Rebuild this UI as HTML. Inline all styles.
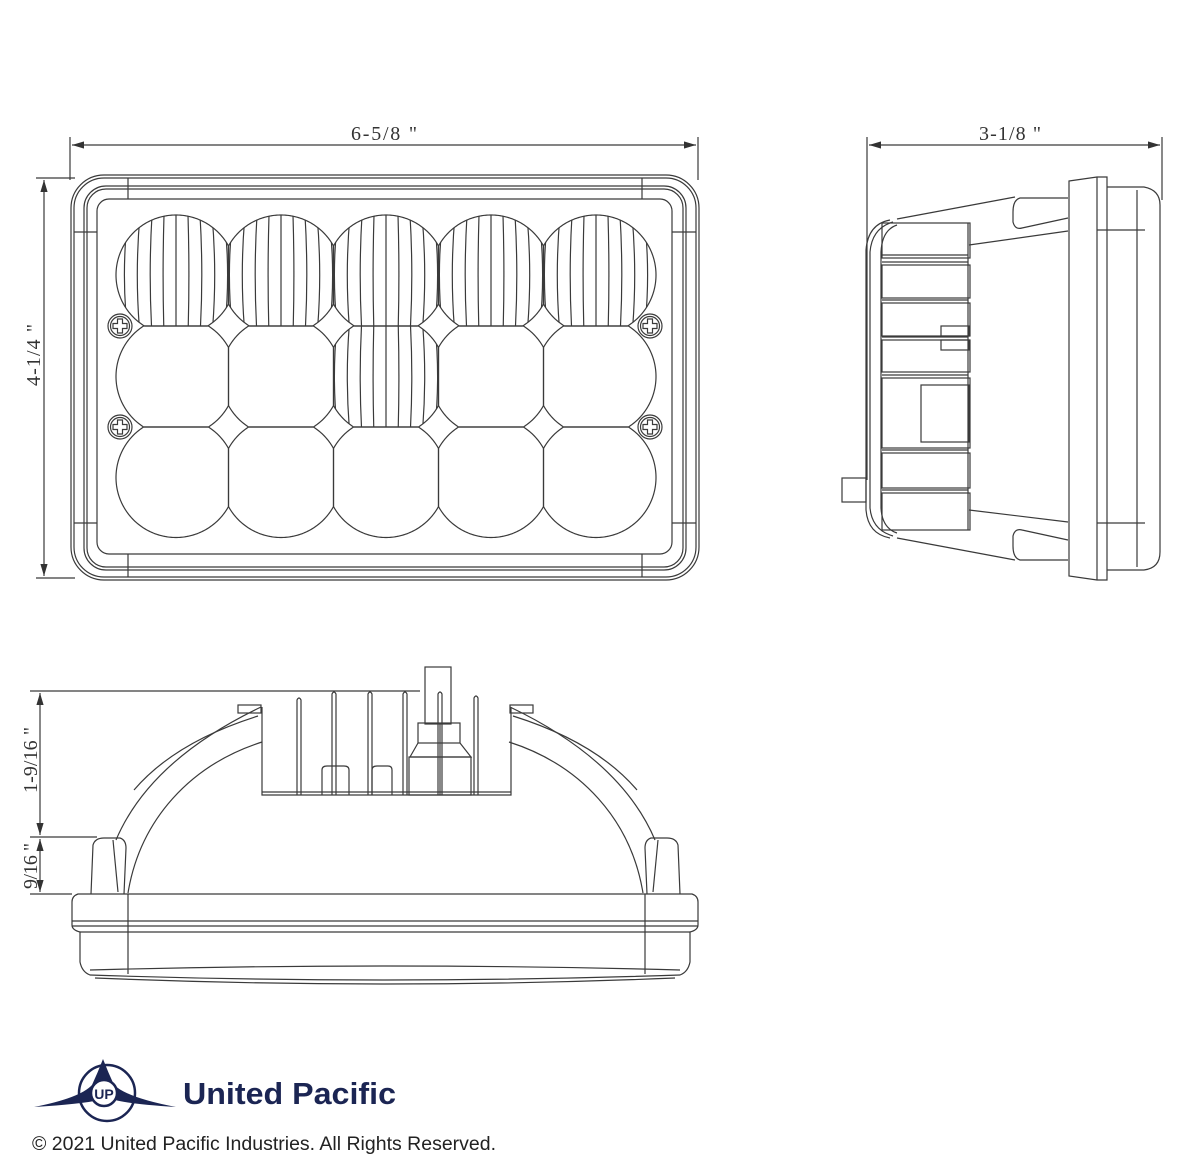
<!DOCTYPE html>
<html><head><meta charset="utf-8"><style>
html,body{margin:0;padding:0;background:#fff;width:1179px;height:1159px;overflow:hidden}
svg{display:block}
.l{fill:none;stroke:#3a3a3a;stroke-width:1.2}
.t{font-family:"Liberation Serif",serif;font-size:20px;fill:#333}
</style></head><body>
<svg width="1179" height="1159" viewBox="0 0 1179 1159" xmlns="http://www.w3.org/2000/svg">
<defs>
<marker id="ar" viewBox="0 0 10 6" refX="10" refY="3" markerWidth="10" markerHeight="6" orient="auto-start-reverse"><path d="M0,0 L10,3 L0,6 z" fill="#333"/></marker>
</defs>
<g class="l">
<!-- FRONT VIEW dims -->
<line x1="70" y1="137" x2="70" y2="180"/><line x1="698" y1="137" x2="698" y2="180"/>
<line x1="72" y1="145" x2="696" y2="145" marker-start="url(#ar)" marker-end="url(#ar)"/>
<line x1="36" y1="178" x2="75" y2="178"/><line x1="36" y1="578" x2="75" y2="578"/>
<line x1="44" y1="180" x2="44" y2="576" marker-start="url(#ar)" marker-end="url(#ar)"/>
<!-- frame -->
<rect x="71" y="175" width="628" height="405" rx="33"/>
<rect x="74" y="178" width="622" height="399" rx="30"/>
<rect x="84" y="186" width="602" height="384" rx="22"/>
<rect x="87" y="189" width="596" height="378" rx="19"/>
<rect x="97" y="199" width="575" height="355" rx="12"/>
<line x1="128" y1="178" x2="128" y2="199"/><line x1="642" y1="178" x2="642" y2="199"/>
<line x1="128" y1="554" x2="128" y2="577"/><line x1="642" y1="554" x2="642" y2="577"/>
<line x1="74" y1="232" x2="97" y2="232"/><line x1="672" y1="232" x2="696" y2="232"/>
<line x1="74" y1="523" x2="97" y2="523"/><line x1="672" y1="523" x2="696" y2="523"/>
</g>
<text class="t" x="384" y="140" text-anchor="middle" textLength="66">6-5/8 "</text>
<text class="t" transform="translate(40,355) rotate(-90)" text-anchor="middle" textLength="62">4-1/4 "</text>

<!-- LED grid -->
<g id="grid" class="l"></g>
<!-- screws -->
<g class="l" stroke-width="1">
<g transform="translate(120,326)"><circle r="12"/><circle r="9.5"/><path d="M-2.5,-7h5v4.5h4.5v5h-4.5v4.5h-5v-4.5h-4.5v-5h4.5z"/></g>
<g transform="translate(120,427)"><circle r="12"/><circle r="9.5"/><path d="M-2.5,-7h5v4.5h4.5v5h-4.5v4.5h-5v-4.5h-4.5v-5h4.5z"/></g>
<g transform="translate(650,326)"><circle r="12"/><circle r="9.5"/><path d="M-2.5,-7h5v4.5h4.5v5h-4.5v4.5h-5v-4.5h-4.5v-5h4.5z"/></g>
<g transform="translate(650,427)"><circle r="12"/><circle r="9.5"/><path d="M-2.5,-7h5v4.5h4.5v5h-4.5v4.5h-5v-4.5h-4.5v-5h4.5z"/></g>
</g>

<!-- SIDE VIEW -->
<g class="l">
<line x1="867" y1="137" x2="867" y2="480"/><line x1="1162" y1="137" x2="1162" y2="200"/>
<line x1="869" y1="145" x2="1160" y2="145" marker-start="url(#ar)" marker-end="url(#ar)"/>
<path d="M1069,181 L1097,177 L1107,177 L1107,580 L1097,580 L1069,576 Z"/>
<line x1="1097" y1="177" x2="1097" y2="580"/>
<path d="M1107,187 L1144,187 Q1160,190 1160,205 L1160,552 Q1160,568 1144,570 L1107,570"/>
<line x1="1137" y1="190" x2="1137" y2="567"/>
<line x1="1097" y1="230" x2="1145" y2="230"/><line x1="1097" y1="523" x2="1145" y2="523"/>
<path d="M890,220 Q868,224 866,250 L866,510 Q868,534 890,538"/>
<path d="M893,222 Q872,228 870,252 L870,508 Q872,530 893,536"/>
<path d="M897,225 Q882,230 881,252 L881,508 Q882,528 897,533"/>
<line x1="897" y1="219" x2="1015" y2="197"/><line x1="969" y1="245" x2="1068" y2="231"/>
<line x1="897" y1="538" x2="1015" y2="560"/><line x1="969" y1="510" x2="1068" y2="522"/>
<path d="M1068,198 L1020,198 Q1013,200 1013,212 L1013,222 Q1015,230 1022,228 L1068,218"/>
<path d="M1068,560 L1020,560 Q1013,558 1013,546 L1013,536 Q1015,528 1022,530 L1068,540"/>
<rect x="882" y="223" width="88" height="35"/><line x1="882" y1="255" x2="968" y2="255"/>
<rect x="882" y="265" width="88" height="33"/><line x1="882" y1="262" x2="968" y2="262"/>
<rect x="882" y="303" width="88" height="33"/><line x1="882" y1="300" x2="968" y2="300"/>
<rect x="882" y="340" width="88" height="32"/><line x1="882" y1="337" x2="968" y2="337"/>
<rect x="882" y="378" width="88" height="70"/><line x1="882" y1="375" x2="968" y2="375"/>
<rect x="921" y="385" width="48" height="57"/>
<rect x="941" y="326" width="28" height="10"/><rect x="941" y="340" width="28" height="10"/>
<rect x="882" y="453" width="88" height="35"/><line x1="882" y1="450" x2="968" y2="450"/>
<rect x="882" y="493" width="88" height="37"/><line x1="882" y1="490" x2="968" y2="490"/>
<line x1="968" y1="223" x2="968" y2="530"/>
<rect x="842" y="478" width="24" height="24"/>
</g>
<text class="t" x="1010" y="140" text-anchor="middle" textLength="62">3-1/8 "</text>

<!-- BOTTOM VIEW -->
<g class="l">
<line x1="30" y1="691" x2="420" y2="691"/>
<line x1="30" y1="837" x2="97" y2="837"/>
<line x1="30" y1="894" x2="72" y2="894"/>
<line x1="40" y1="693" x2="40" y2="835" marker-start="url(#ar)" marker-end="url(#ar)"/>
<line x1="40" y1="839" x2="40" y2="892" marker-start="url(#ar)" marker-end="url(#ar)"/>
<path d="M78,894 L692,894 Q698,896 698,902 L698,925 Q698,930 690,932 L690,962 Q688,972 680,975 Q385,985 90,975 Q82,972 80,962 L80,932 Q72,930 72,925 L72,902 Q72,896 78,894 Z"/>
<line x1="72" y1="921" x2="698" y2="921"/><line x1="72" y1="926" x2="698" y2="926"/>
<line x1="80" y1="932" x2="690" y2="932"/>
<line x1="128" y1="894" x2="128" y2="974"/><line x1="645" y1="894" x2="645" y2="974"/>
<path d="M90,970 Q385,962 680,970"/>
<path d="M95,978 Q385,990 675,978"/>
<path d="M91,894 L93,845 Q95,838 104,838 L120,838 Q126,840 126,848 L124,894"/>
<path d="M113,840 L118,892"/>
<path d="M680,894 L678,845 Q676,838 667,838 L651,838 Q645,840 645,848 L647,894"/>
<path d="M658,840 L653,892"/>
<path d="M116,840 Q150,760 261,707"/>
<path d="M134,790 Q175,742 258,716"/>
<path d="M128,893 C140,820 190,765 262,742"/>
<path d="M655,840 Q621,760 510,707"/>
<path d="M637,790 Q596,742 513,716"/>
<path d="M643,893 C631,820 581,765 509,742"/>
<rect x="238" y="705" width="23" height="8"/><rect x="510" y="705" width="23" height="8"/>
<path d="M262,707 L262,795 L511,795 L511,707"/>
<line x1="262" y1="792" x2="511" y2="792"/>
<path d="M297,795 L297,700 Q299,696 301,700 L301,795"/>
<path d="M332,795 L332,694 Q334,690 336,694 L336,795"/>
<path d="M368,795 L368,694 Q370,690 372,694 L372,795"/>
<path d="M403,795 L403,694 Q405,690 407,694 L407,795"/>
<path d="M438,795 L438,694 Q440,690 442,694 L442,795"/>
<path d="M474,795 L474,698 Q476,694 478,698 L478,795"/>
<rect x="425" y="667" width="26" height="57"/>
<rect x="418" y="723" width="42" height="20"/>
<path d="M418,743 L410,757 L471,757 L460,743"/>
<rect x="409" y="757" width="62" height="38"/>
<line x1="440" y1="723" x2="440" y2="795"/>
<path d="M322,795 L322,770 Q322,766 327,766 L344,766 Q349,766 349,770 L349,795"/>
<path d="M372,795 L372,770 Q372,766 377,766 L388,766 Q392,766 392,770 L392,795"/>
</g>
<text class="t" transform="translate(37,760) rotate(-90)" text-anchor="middle" textLength="66">1-9/16 "</text>
<text class="t" transform="translate(37,866) rotate(-90)" text-anchor="middle" textLength="46">9/16 "</text>

<!-- LOGO -->
<g>
<circle cx="107" cy="1093" r="28" fill="none" stroke="#1b2553" stroke-width="2.5"/>
<path d="M34,1107 Q80,1098 92,1085 Q98,1072 103,1059 Q108,1072 114,1085 Q128,1098 176,1107 Q130,1104 115,1100 Q107,1110 99,1100 Q82,1104 34,1107 Z" fill="#1b2553"/>
<circle cx="104" cy="1093" r="13" fill="#fff" stroke="#1b2553" stroke-width="2.5"/>
<text x="104" y="1099" font-family="Liberation Sans,sans-serif" font-weight="bold" font-size="14" fill="#1b2553" text-anchor="middle">UP</text>
<text x="183" y="1104" font-family="Liberation Sans,sans-serif" font-weight="bold" font-size="31" fill="#1b2553" textLength="213" lengthAdjust="spacingAndGlyphs">United Pacific</text>
<text x="32" y="1150" font-family="Liberation Sans,sans-serif" font-size="19" fill="#222" textLength="464" lengthAdjust="spacingAndGlyphs">© 2021 United Pacific Industries. All Rights Reserved.</text>
</g>
</svg>
<script>
(function(){
var ns="http://www.w3.org/2000/svg",g=document.getElementById("grid"),defs=document.querySelector("defs");
var cxs=[176,281,386,491,596],rows=[{cy:275,y0:-1e4,y1:326},{cy:376.5,y0:326,y1:427},{cy:477.5,y0:427,y1:1e4}];
var r=60,h=52.5;
function el(n,a,p){var e=document.createElementNS(ns,n);for(var k in a)e.setAttribute(k,a[k]);(p||g).appendChild(e);return e;}
rows.forEach(function(R,ri){cxs.forEach(function(cx,ci){
 var xl=ci==0?-1e4:cx-h,xr=ci==4?1e4:cx+h,pts=[];
 for(var i=0;i<360;i++){var a=i*Math.PI/180,x=cx+r*Math.cos(a),y=R.cy+r*Math.sin(a);
  x=Math.min(xr,Math.max(xl,x));y=Math.min(R.y1,Math.max(R.y0,y));pts.push(x.toFixed(2)+","+y.toFixed(2));}
 var d="M"+pts.join(" L")+" Z";
 var id="cp"+ri+"_"+ci;var cp=el("clipPath",{id:id},defs);el("path",{d:d},cp);
 if(ri==0||(ri==1&&ci==2)){
  var top=R.cy-r,bot=R.cy+r;
  for(var k=-4;k<=4;k++){var x=cx+k*12;
   el("path",{d:"M"+x+","+top+" Q"+(x+k*1.8)+","+R.cy+" "+x+","+bot,"clip-path":"url(#"+id+")"});}
 }
 el("path",{d:d});
});});
})();
</script>
</body></html>
